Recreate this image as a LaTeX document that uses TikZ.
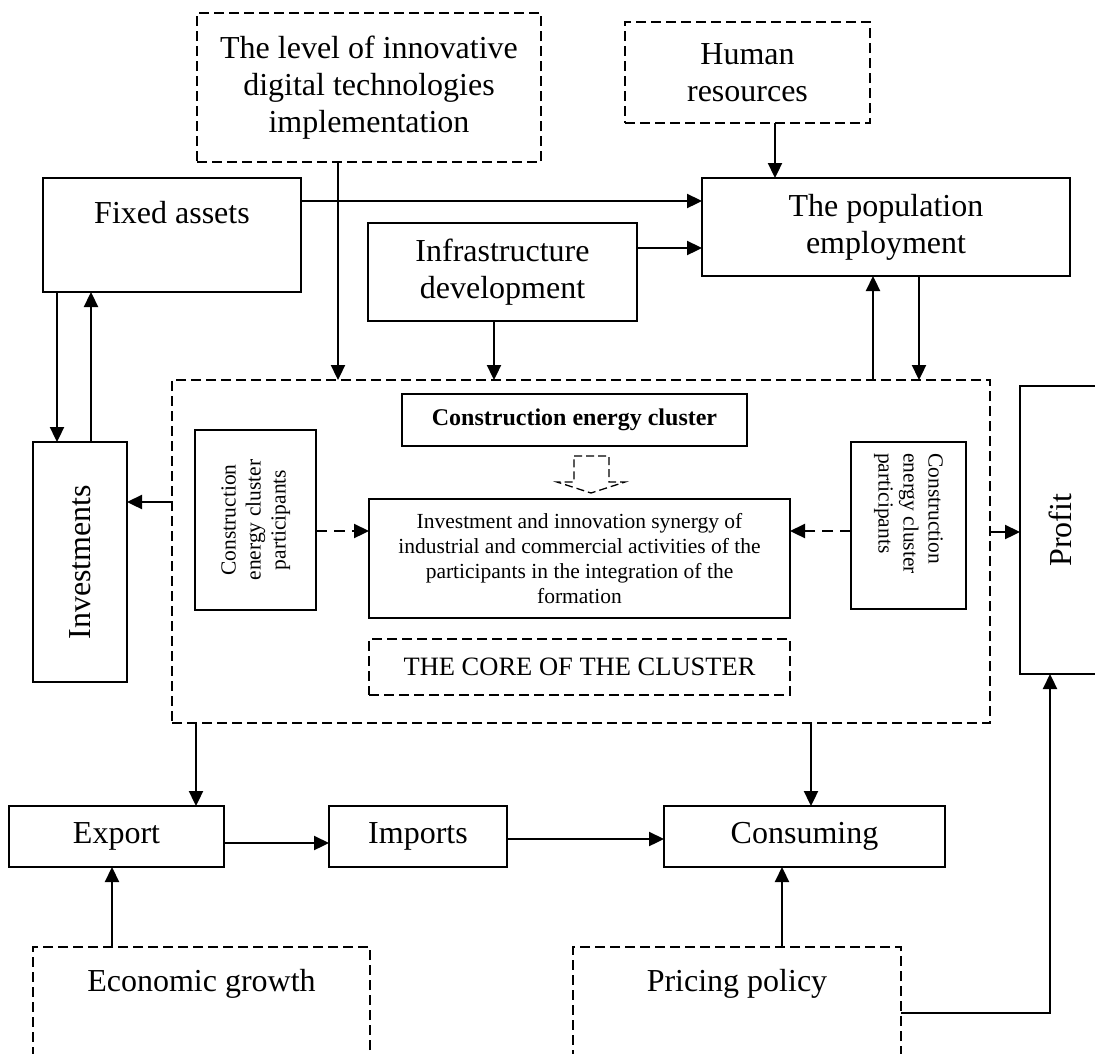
\documentclass[tikz,border=0pt]{standalone}
\usepackage{fontspec}
\setmainfont{Liberation Serif}
\usetikzlibrary{arrows.meta, positioning}
\newcommand{\bigtxt}{\fontsize{32}{37}\selectfont}
\newcommand{\midtxt}{\fontsize{26.5}{31}\selectfont}
\newcommand{\smalltxt}{\fontsize{21.5}{25}\selectfont}
\newcommand{\boldtxt}{\fontsize{24}{28}\selectfont\bfseries}

\begin{document}
\begin{tikzpicture}[x=1pt, y=-1pt]
\tikzstyle{box}=[rectangle, draw=black, line width=1.6pt, inner sep=0pt, outer sep=0pt, align=center, font=\bigtxt]
\tikzstyle{dbox}=[box, dash pattern=on 10pt off 5pt, line width=1.5pt]
\tikzstyle{connect}=[-{Triangle[length=15pt, width=14pt]}, line width=2.3pt]
\tikzstyle{dconnect}=[connect, dash pattern=on 11pt off 7pt]
\useasboundingbox (0,0) rectangle (1095,1053);
% top
\node[dbox, minimum width=344, minimum height=149] (level) at (369,87.5) {The level of innovative\\ digital technologies\\ implementation};
\node[dbox, minimum width=245, minimum height=101] (human) at (747.5,72.5) {Human\\ resources};
\node[box, minimum width=258, minimum height=114, label={[anchor=north, yshift=-20pt, font=\bigtxt]north:Fixed assets}] (fixed) at (172,235) {};
\node[box, minimum width=368, minimum height=98] (popul) at (886,227) {The population\\ employment};
\node[box, minimum width=269, minimum height=98] (infra) at (502.5,272) {Infrastructure\\ development};
% middle
\node[box, minimum width=94, minimum height=240] (invest) at (80,562) {\rotatebox{90}{Investments}};
\node[dbox, minimum width=818, minimum height=343] (clus) at (581,551.5) {};
\node[box, minimum width=80, minimum height=288] (profit) at (1060,530) {\rotatebox{90}{Profit}};
\node[box, font=\boldtxt, minimum width=345, minimum height=52] (core) at (574.5,420) {Construction energy cluster};
\node[box, font=\smalltxt, minimum width=121, minimum height=180] (partl) at (255.5,520) {\rotatebox{90}{\begin{tabular}{@{}c@{}}Construction\\ energy cluster\\ participants\end{tabular}}};
\node[box, font=\smalltxt, minimum width=421, minimum height=119] (syn) at (579.5,558.5) {Investment and innovation synergy of\\ industrial and commercial activities of the\\ participants in the integration of the\\ formation};
\node[box, minimum width=115, minimum height=167, label={[anchor=north, yshift=-11pt, inner sep=0pt, font=\smalltxt]north:\rotatebox{-90}{\begin{tabular}{@{}l@{}}Construction\\ energy cluster\\ participants\end{tabular}}}] (partr) at (908.5,525.5) {};
\node[dbox, font=\midtxt, minimum width=421, minimum height=56] (kern) at (579.5,667) {THE CORE OF THE CLUSTER};
% bottom
\node[box, minimum width=215, minimum height=61] (export) at (116.5,836.5) {Export};
\node[box, minimum width=178, minimum height=61] (imports) at (418,836.5) {Imports};
\node[box, minimum width=281, minimum height=61] (consum) at (804.5,836.5) {Consuming};
\node[dbox, minimum width=337, minimum height=126, label={[anchor=north, yshift=-19pt, font=\bigtxt]north:Economic growth}] (econ) at (201.5,1010) {};
\node[dbox, minimum width=328, minimum height=126, label={[anchor=north, yshift=-19pt, font=\bigtxt]north:Pricing policy}] (pric) at (737,1010) {};
% hollow arrow
\draw[line width=1.3pt, dash pattern=on 8pt off 4pt] (574,456) -- (609,456) -- (609,482) -- (625,482) -- (591,493) -- (557,482) -- (574,482) -- cycle;
% connectors
\path (fixed.east |- 0,201) edge [connect] (popul.west |- 0,201);
\path (infra.east |- 0,248) edge [connect] (popul.west |- 0,248);
\path (775,0 |- human.south) edge [connect] (775,0 |- popul.north);
\path (338,0 |- level.south) edge [connect] (338,0 |- clus.north);
\path (494,0 |- infra.south) edge [connect] (494,0 |- clus.north);
\path (873,0 |- clus.north) edge [connect] (873,0 |- popul.south);
\path (919,0 |- popul.south) edge [connect] (919,0 |- clus.north);
\path (57,0 |- fixed.south) edge [connect] (57,0 |- invest.north);
\path (91,0 |- invest.north) edge [connect] (91,0 |- fixed.south);
\path (clus.west |- 0,502) edge [connect] (invest.east |- 0,502);
\path (clus.east |- 0,532) edge [connect] (profit.west |- 0,532);
\path (partl.east |- 0,531) edge [dconnect] (syn.west |- 0,531);
\path (partr.west |- 0,531) edge [dconnect] (syn.east |- 0,531);
\path (196,0 |- clus.south) edge [connect] (196,0 |- export.north);
\path (811,0 |- clus.south) edge [connect] (811,0 |- consum.north);
\path (export.east |- 0,843) edge [connect] (imports.west |- 0,843);
\path (imports.east |- 0,839) edge [connect] (consum.west |- 0,839);
\path (112,0 |- econ.north) edge [connect] (112,0 |- export.south);
\path (782,0 |- pric.north) edge [connect] (782,0 |- consum.south);
\draw[connect] (pric.east |- 0,1013) -| (1050,0 |- profit.south);
\end{tikzpicture}
\end{document}
